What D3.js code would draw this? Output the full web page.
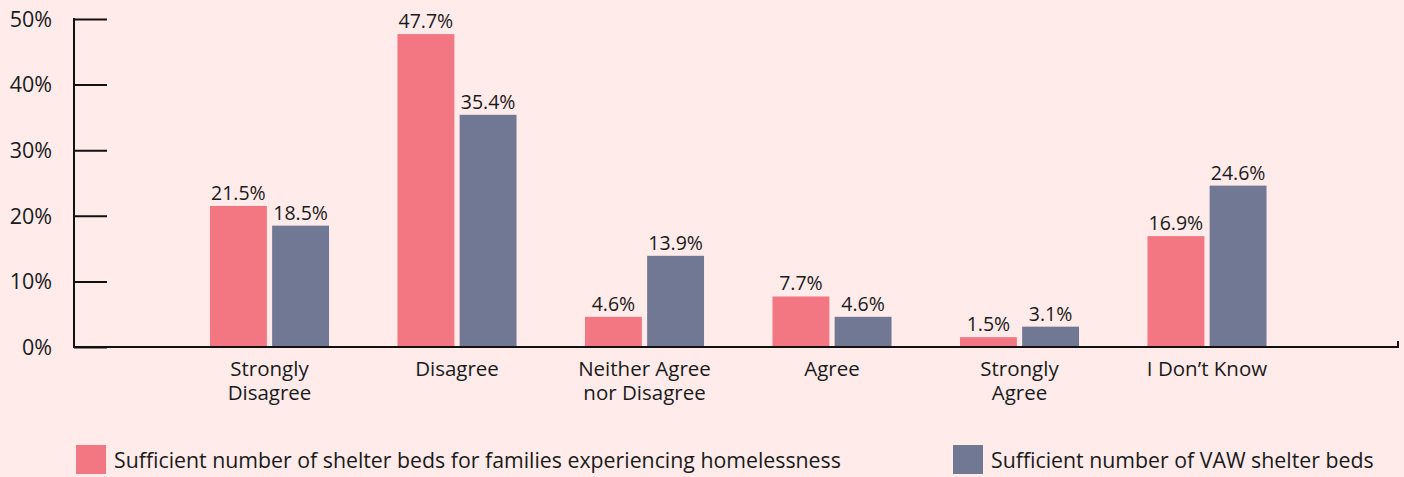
<!DOCTYPE html>
<html>
<head>
<meta charset="utf-8">
<script src="https://cdn.jsdelivr.net/npm/d3@7"></script>
<style>
  html, body { margin: 0; padding: 0; background: #ffebea; }
  svg { display: block; font-family: "Open Sans", sans-serif; }
</style>
</head>
<body>
<svg id="chart" width="1404" height="477"></svg>
<script>
// Survey responses: shelter bed sufficiency
const categories = [
  ["Strongly", "Disagree"],
  ["Disagree"],
  ["Neither Agree", "nor Disagree"],
  ["Agree"],
  ["Strongly", "Agree"],
  ["I Don\u2019t Know"]
];
const familyBeds = [21.5, 47.7, 4.6, 7.7, 1.5, 16.9];
const vawBeds = [18.5, 35.4, 13.9, 4.6, 3.1, 24.6];
const seriesNames = [
  "Sufficient number of shelter beds for families experiencing homelessness",
  "Sufficient number of VAW shelter beds"
];
const seriesColors = ["#f27782", "#717894"];
const yTicks = [0, 10, 20, 30, 40, 50];

const svg = d3.select("#chart");
const axisX0 = 74, axisX1 = 1398;
const yTop = 19, yBottom = 347;

// group layout: 187.5px per category, 119px occupied by the bar pair
const step = 187.5, pInner = 0.365, firstCenter = 269.5;
const bandW = step * (1 - pInner);
const x0 = firstCenter - bandW / 2;
const keys = categories.map((c, i) => i);
const x = d3.scaleBand().domain(keys)
  .range([x0, x0 + step * (keys.length - pInner)])
  .paddingInner(pInner).paddingOuter(0);
const xs = d3.scaleBand().domain([0, 1]).range([0, x.bandwidth()]).paddingInner(0.085);
const y = d3.scaleLinear().domain([0, 50]).range([yBottom, yTop]);

const series = [familyBeds, vawBeds];

// bars and value labels
series.forEach((vals, s) => {
  const g = svg.append("g");
  g.selectAll("rect").data(vals).join("rect")
    .attr("x", (d, i) => x(i) + xs(s))
    .attr("y", d => y(d))
    .attr("width", xs.bandwidth())
    .attr("height", d => y(0) - y(d))
    .attr("fill", seriesColors[s]);
  g.selectAll("text").data(vals).join("text")
    .attr("x", (d, i) => x(i) + xs(s) + xs.bandwidth() / 2)
    .attr("y", d => y(d) - 6)
    .attr("text-anchor", "middle")
    .attr("font-size", 19.5)
    .attr("fill", "#1a1a1a")
    .text(d => d.toFixed(1) + "%");
});

// y axis: ticks pointing into the plot
const yAxis = d3.axisRight(y).tickValues(yTicks).tickSize(33).tickFormat("");
const yg = svg.append("g").attr("transform", `translate(${axisX0},0)`).call(yAxis);
yg.select(".domain").remove();
yg.selectAll(".tick line").attr("stroke", "#111").attr("stroke-width", 2);
svg.append("line")
  .attr("x1", axisX0).attr("x2", axisX0)
  .attr("y1", y(50) - 1).attr("y2", y(0) + 1)
  .attr("stroke", "#111").attr("stroke-width", 2);

svg.append("g").selectAll("text").data(yTicks).join("text")
  .attr("x", 52)
  .attr("y", d => y(d))
  .attr("dy", "0.36em")
  .attr("text-anchor", "end")
  .attr("font-size", 21.5)
  .attr("fill", "#1a1a1a")
  .text(d => d + "%");

// x axis baseline with end tick
svg.append("path")
  .attr("d", `M${axisX0},${y(0)}H${axisX1}V${y(0) - 6}`)
  .attr("fill", "none").attr("stroke", "#111").attr("stroke-width", 2);

// category labels
svg.append("g").selectAll("text").data(categories).join("text")
  .attr("x", (d, i) => x(i) + x.bandwidth() / 2)
  .attr("y", 376)
  .attr("text-anchor", "middle")
  .attr("font-size", 20.5)
  .attr("fill", "#1a1a1a")
  .each(function(lines) {
    const t = d3.select(this);
    lines.forEach((ln, k) => {
      t.append("tspan").attr("x", t.attr("x")).attr("dy", k === 0 ? 0 : 24).text(ln);
    });
  });

// legend
const legendX = [76, 953];
const lg = svg.append("g").selectAll("g").data(seriesNames).join("g")
  .attr("transform", (d, i) => `translate(${legendX[i]},445)`);
lg.append("rect").attr("width", 30).attr("height", 29).attr("fill", (d, i) => seriesColors[i]);
lg.append("text")
  .attr("x", 38).attr("y", 23)
  .attr("font-size", 21.3)
  .attr("fill", "#1a1a1a")
  .text(d => d);
</script>
</body>
</html>
